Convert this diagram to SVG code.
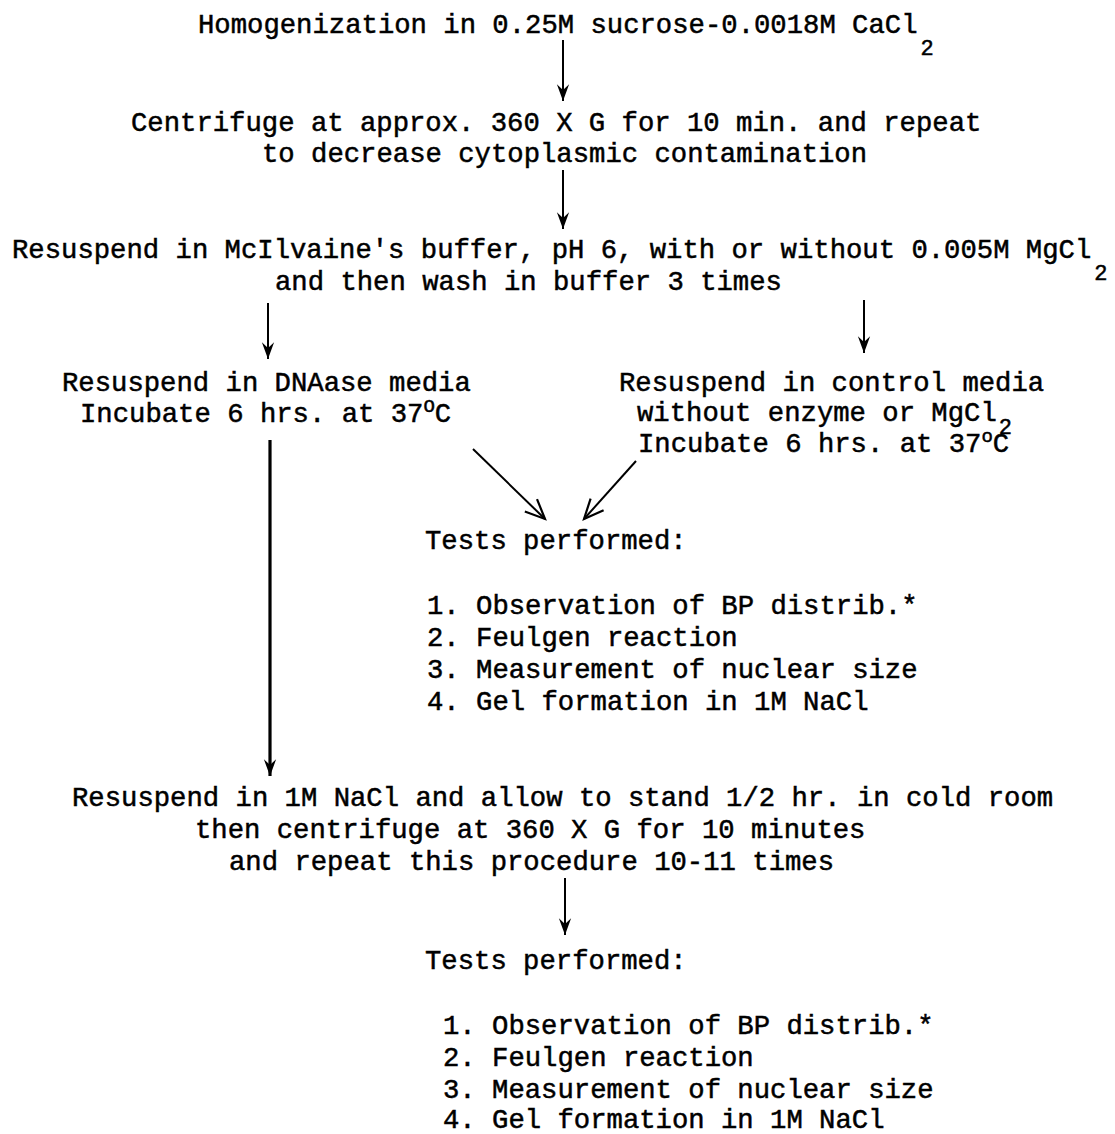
<svg xmlns="http://www.w3.org/2000/svg" width="1115" height="1134" viewBox="0 0 1115 1134">
<style>
.t{font-family:"Liberation Mono","DejaVu Sans Mono",monospace;font-size:27.25px;fill:#000;stroke:#000;stroke-width:0.5}
.s{font-size:22px}
.p{font-size:19px}
.c{fill:none;stroke:#000;stroke-width:2}
.k{stroke-width:3.2}
</style>
<defs>
<marker id="ah" markerUnits="userSpaceOnUse" markerWidth="20" markerHeight="20" viewBox="-16 -8 18 16" refX="0" refY="0" orient="auto">
<path d="M0,0 L-15,-5.5 L-10,0 L-15,5.5 Z" fill="#000"/>
</marker>
<marker id="av" markerUnits="userSpaceOnUse" markerWidth="24" markerHeight="24" viewBox="-20 -10 22 20" refX="0" refY="0" orient="auto">
<path d="M-18,-8 L0,0 L-18,8" fill="none" stroke="#000" stroke-width="2"/>
</marker>
</defs>
<rect width="1115" height="1134" fill="#fff"/>
<g id="connectors">
<line class="c" x1="563" y1="40" x2="563" y2="101" marker-end="url(#ah)"/>
<line class="c" x1="563" y1="170" x2="563" y2="229" marker-end="url(#ah)"/>
<line class="c" x1="268" y1="303" x2="268" y2="359" marker-end="url(#ah)"/>
<line class="c" x1="864" y1="300" x2="864" y2="353" marker-end="url(#ah)"/>
<line class="c k" x1="270" y1="440" x2="270" y2="776" marker-end="url(#ah)"/>
<line class="c" x1="473" y1="449" x2="545" y2="519" marker-end="url(#av)"/>
<line class="c" x1="636" y1="461" x2="584" y2="519" marker-end="url(#av)"/>
<line class="c" x1="565" y1="878" x2="565" y2="935" marker-end="url(#ah)"/>
</g>
<g id="homogenization">
<text class="t" x="198" y="33">Homogenization in 0.25M sucrose-0.0018M CaCl<tspan class="s" dx="3" dy="22">2</tspan></text>
</g>
<g id="centrifuge">
<text class="t" x="131" y="131">Centrifuge at approx. 360 X G for 10 min. and repeat</text>
<text class="t" x="262" y="162">to decrease cytoplasmic contamination</text>
</g>
<g id="resuspend-buffer">
<text class="t" x="12" y="258">Resuspend in McIlvaine's buffer, pH 6, with or without 0.005M MgCl<tspan class="s" dx="3" dy="22">2</tspan></text>
<text class="t" x="275" y="290">and then wash in buffer 3 times</text>
</g>
<g id="dnaase">
<text class="t" x="62" y="391">Resuspend in DNAase media</text>
<text class="t" x="80" y="422">Incubate 6 hrs. at 37<tspan class="p" dy="-10">O</tspan><tspan dy="10">C</tspan></text>
</g>
<g id="control">
<text class="t" x="619" y="391">Resuspend in control media</text>
<text class="t" x="637" y="421">without enzyme or MgCl<tspan class="s" dx="2" dy="13">2</tspan></text>
<text class="t" x="638" y="452">Incubate 6 hrs. at 37<tspan class="p" dy="-10">o</tspan><tspan dy="10">C</tspan></text>
</g>
<g id="tests-1">
<text class="t" x="425" y="549">Tests performed:</text>
<text class="t" x="427" y="614">1. Observation of BP distrib.*</text>
<text class="t" x="427" y="646">2. Feulgen reaction</text>
<text class="t" x="427" y="678">3. Measurement of nuclear size</text>
<text class="t" x="427" y="710">4. Gel formation in 1M NaCl</text>
</g>
<g id="nacl">
<text class="t" x="72" y="806">Resuspend in 1M NaCl and allow to stand 1/2 hr. in cold room</text>
<text class="t" x="195" y="838">then centrifuge at 360 X G for 10 minutes</text>
<text class="t" x="229" y="870">and repeat this procedure 10-11 times</text>
</g>
<g id="tests-2">
<text class="t" x="425" y="969">Tests performed:</text>
<text class="t" x="443" y="1034">1. Observation of BP distrib.*</text>
<text class="t" x="443" y="1066">2. Feulgen reaction</text>
<text class="t" x="443" y="1098">3. Measurement of nuclear size</text>
<text class="t" x="443" y="1128">4. Gel formation in 1M NaCl</text>
</g>
</svg>
